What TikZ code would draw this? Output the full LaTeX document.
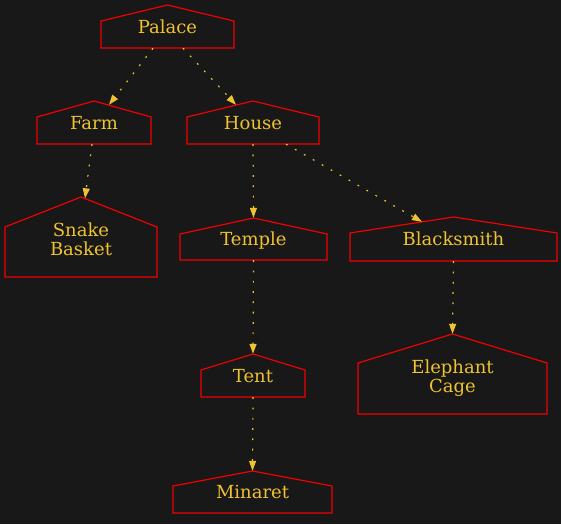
\documentclass[tikz,border=0pt]{standalone}
\usepackage{fontspec}
\setmainfont{DejaVu Serif}
\usetikzlibrary{arrows.meta}
\definecolor{bgc}{RGB}{24,24,24}
\definecolor{brd}{RGB}{240,0,0}
\definecolor{gold}{RGB}{238,194,48}
\tikzset{
  houseline/.style={draw=brd, line width=1.2pt, line join=miter},
  housebox/.style={draw=none, inner sep=0pt, text=gold,
    font=\fontsize{18pt}{19.3pt}\selectfont, text height=13.5pt, text depth=0pt},
  twoline/.style={text height=13.5pt, text depth=15.5pt},
  edge/.style={draw=gold, line width=1.2pt, dash pattern=on 1.8pt off 8.5pt,
    -{Triangle[length=10pt,width=7pt]}},
}
\newcommand{\twolines}[2]{\vtop{\baselineskip=19.3pt\lineskiplimit=-20pt\halign{\hfil##\hfil\cr#1\cr#2\cr}}}
% [style] name, cx, top, eave, bottom, halfwidth, text
\newcommand{\housenode}[8][]{%
  \draw[houseline] ({#3-#7},#6) -- ({#3-#7},#5) -- (#3,#4) -- ({#3+#7},#5) -- ({#3+#7},#6) -- cycle;
  \node[housebox, #1, minimum width={2*#7*1pt}, minimum height={(#6-#4)*1pt}] (#2) at (#3,{(#4+#6)/2}) {#8};
}
\begin{document}
\begin{tikzpicture}[x=1pt,y=-1pt]
\fill[bgc] (0,0) rectangle (561,524);
\useasboundingbox (0,0) rectangle (561,524);
\housenode{palace}{167.5}{5}{21}{48}{66.5}{Palace}
\housenode{farm}{94}{101}{117}{144}{57}{Farm}
\housenode{house}{253}{101}{117}{144}{66}{House}
\housenode[twoline]{snake}{81}{197}{227}{277}{76}{\twolines{Snake}{Basket}}
\housenode{temple}{253.5}{218}{234}{260}{73.5}{Temple}
\housenode{blacksmith}{453.5}{217}{233}{261}{103.5}{Blacksmith}
\housenode{tent}{253}{354}{370}{397}{52}{Tent}
\housenode[twoline]{elephant}{452.5}{334}{363}{414}{94.5}{\twolines{Elephant}{Cage}}
\housenode{minaret}{252.5}{471}{486}{513}{79.5}{Minaret}

\draw[edge] ([xshift=-14.5pt]palace.south) -- ([xshift=15pt,yshift=-4pt]farm.north);
\draw[edge] ([xshift=15.5pt]palace.south) -- ([xshift=-17pt,yshift=-4pt]house.north);
\draw[edge] ([xshift=-2pt]farm.south) -- ([xshift=4pt,yshift=-1.5pt]snake.north);
\draw[edge] (house.south) -- (temple.north);
\draw[edge] ([xshift=33pt]house.south) -- ([xshift=-31.5pt,yshift=-5pt]blacksmith.north);
\draw[edge] (temple.south) -- (tent.north);
\draw[edge] (blacksmith.south) -- (elephant.north);
\draw[edge] (tent.south) -- (minaret.north);
\end{tikzpicture}
\end{document}
